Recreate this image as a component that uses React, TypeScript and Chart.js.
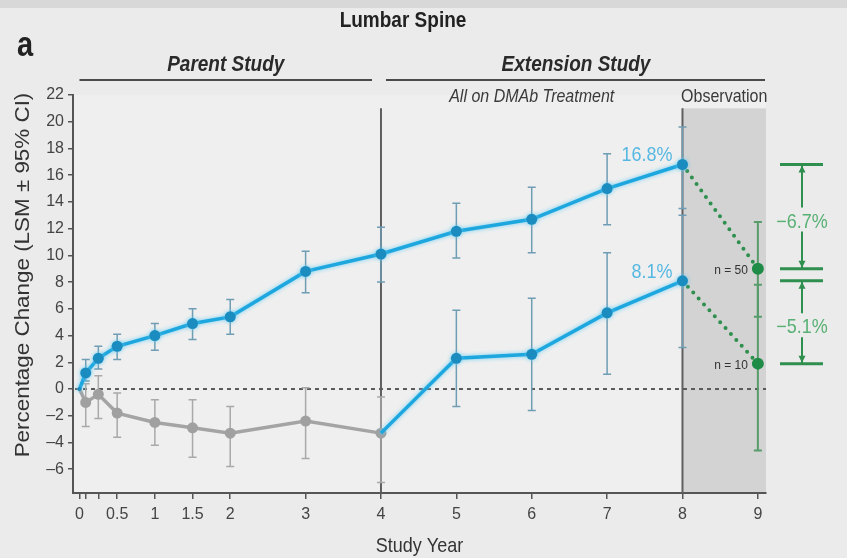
import React, { useEffect, useRef } from 'react';
import { Chart, registerables } from 'chart.js';

Chart.register(...registerables);

// ---------- data ----------
const xTickValues = [0, 0.083, 0.25, 0.5, 1, 1.5, 2, 3, 4, 5, 6, 7, 8, 9];
const xTickLabels = ['0', '', '', '0.5', '1', '1.5', '2', '3', '4', '5', '6', '7', '8', '9'];
const yTickValues = [-6, -4, -2, 0, 2, 4, 6, 8, 10, 12, 14, 16, 18, 20, 22];

const dmabYears = [0, 0.083, 0.25, 0.5, 1, 1.5, 2, 3, 4, 5, 6, 7, 8];
const dmabMean = [0, 1.2, 2.3, 3.2, 4.0, 4.9, 5.4, 8.8, 10.1, 11.8, 12.7, 15.0, 16.8];
const dmabLow = [null, 0.6, 1.5, 2.2, 2.9, 3.7, 4.1, 7.2, 8.0, 9.8, 10.2, 12.3, 13.5];
const dmabHigh = [null, 2.2, 3.2, 4.1, 4.9, 6.0, 6.7, 10.3, 12.1, 13.9, 15.1, 17.6, 19.6];

const crossYears = [4, 5, 6, 7, 8];
const crossMean = [-3.3, 2.3, 2.6, 5.7, 8.1];
const crossLow = [null, -1.3, -1.6, 1.1, 3.1];
const crossHigh = [null, 5.9, 6.8, 10.2, 13.0];

const placeboYears = [0, 0.083, 0.25, 0.5, 1, 1.5, 2, 3, 4];
const placeboMean = [0, -1.0, -0.4, -1.8, -2.5, -2.9, -3.3, -2.4, -3.3];
const placeboLow = [null, -2.8, -2.2, -3.6, -4.2, -5.1, -5.8, -5.2, -7.0];
const placeboHigh = [null, 0.4, 1.0, -0.3, -0.8, -0.8, -1.3, 0.1, -0.6];

const obsYear = 9;
const obsMean = [9.0, 1.9];
const obsLow = [5.4, -4.6];
const obsHigh = [12.5, 7.8];
const obsLabels = ['n = 50', 'n = 10'];
const endLabels = ['16.8%', '8.1%'];
const changeLabels = ['−6.7%', '−5.1%'];

const titleText = 'Lumbar Spine';
const panelLetter = 'a';
const parentLabel = 'Parent Study';
const extensionLabel = 'Extension Study';
const treatmentLabel = 'All on DMAb Treatment';
const observationLabel = 'Observation';
const yTitle = 'Percentage Change (LSM ± 95% CI)';
const xTitle = 'Study Year';

const crossoverYear = 4;
const observationStart = 8;
const phaseTop = 21;

// ---------- style ----------
const FONT = '"Liberation Sans", Arial, Helvetica, sans-serif';
const BLUE = '#1ea6de';
const BLUE_PT = '#1a8cc0';
const BLUE_ERR = '#6f9db3';
const GRAY = '#a4a4a4';
const GRAY_ERR = '#a9a9a9';
const GREEN = '#2f8f4e';
const GREEN_ERR = '#579c6b';
const AXIS = '#555555';

function sText(ctx: CanvasRenderingContext2D, text: string, x: number, y: number, font: string, color: string, align: CanvasTextAlign, sy = 1.2, baseline: CanvasTextBaseline = 'alphabetic') {
  ctx.save();
  ctx.translate(x, y);
  ctx.scale(1, sy);
  ctx.font = font;
  ctx.fillStyle = color;
  ctx.textAlign = align;
  ctx.textBaseline = baseline;
  ctx.fillText(text, 0, 0);
  ctx.restore();
}

function drawErr(ctx: CanvasRenderingContext2D, xs: any, ys: any, years: number[], lo: (number | null)[], hi: (number | null)[], color: string, lw: number, cap: number) {
  ctx.save();
  ctx.strokeStyle = color;
  ctx.lineWidth = lw;
  for (let i = 0; i < years.length; i++) {
    const l = lo[i];
    const h = hi[i];
    if (l == null || h == null) continue;
    const px = xs.getPixelForValue(years[i]);
    const pl = ys.getPixelForValue(l);
    const ph = ys.getPixelForValue(h);
    ctx.beginPath();
    ctx.moveTo(px, pl);
    ctx.lineTo(px, ph);
    ctx.moveTo(px - cap, pl);
    ctx.lineTo(px + cap, pl);
    ctx.moveTo(px - cap, ph);
    ctx.lineTo(px + cap, ph);
    ctx.stroke();
  }
  ctx.restore();
}

const decorPlugin = {
  id: 'decor',
  beforeDraw(chart: any) {
    const { ctx, width, height, chartArea, scales } = chart;
    const xs = scales.x;
    const ys = scales.y;
    ctx.save();
    ctx.fillStyle = '#ebebeb';
    ctx.fillRect(0, 0, width, height);
    ctx.fillStyle = '#d8d8d8';
    ctx.fillRect(0, 0, width, 8);
    ctx.fillStyle = '#efefef';
    ctx.fillRect(chartArea.left, chartArea.top, chartArea.right - chartArea.left, chartArea.bottom - chartArea.top);
    const ox = xs.getPixelForValue(observationStart);
    const oy = ys.getPixelForValue(phaseTop);
    ctx.fillStyle = '#d3d3d3';
    ctx.fillRect(ox, oy, chartArea.right - ox, chartArea.bottom - oy);
    ctx.restore();
  },
  beforeDatasetsDraw(chart: any) {
    const { ctx, chartArea, scales } = chart;
    const xs = scales.x;
    const ys = scales.y;
    ctx.save();
    const y0 = ys.getPixelForValue(0);
    ctx.strokeStyle = '#5a5a5a';
    ctx.lineWidth = 2;
    ctx.setLineDash([4, 4]);
    ctx.beginPath();
    ctx.moveTo(chartArea.left + 2, y0);
    ctx.lineTo(chartArea.right, y0);
    ctx.stroke();
    ctx.setLineDash([]);
    const top = ys.getPixelForValue(phaseTop);
    ctx.strokeStyle = '#5f5f5f';
    ctx.lineWidth = 2;
    [crossoverYear, observationStart].forEach((v) => {
      const px = xs.getPixelForValue(v);
      ctx.beginPath();
      ctx.moveTo(px, top);
      ctx.lineTo(px, chartArea.bottom);
      ctx.stroke();
    });
    ctx.restore();
    drawErr(ctx, xs, ys, placeboYears, placeboLow, placeboHigh, GRAY_ERR, 1.5, 4);
    drawErr(ctx, xs, ys, dmabYears, dmabLow, dmabHigh, BLUE_ERR, 1.5, 4);
    drawErr(ctx, xs, ys, crossYears, crossLow, crossHigh, BLUE_ERR, 1.5, 4);
    drawErr(ctx, xs, ys, [obsYear, obsYear], obsLow, obsHigh, GREEN_ERR, 2, 4);
  },
  beforeDatasetDraw(chart: any, args: any) {
    if (args.index === 0 || args.index === 1) {
      chart.ctx.save();
      chart.ctx.shadowColor = 'rgba(95, 205, 245, 0.9)';
      chart.ctx.shadowBlur = 4;
    }
  },
  afterDatasetDraw(chart: any, args: any) {
    if (args.index === 0 || args.index === 1) {
      chart.ctx.restore();
    }
  },
  afterDraw(chart: any) {
    const { ctx, chartArea, scales } = chart;
    const xs = scales.x;
    const ys = scales.y;
    const x4 = xs.getPixelForValue(crossoverYear);
    const x8 = xs.getPixelForValue(observationStart);
    const x0 = xs.getPixelForValue(0);
    const x9 = xs.getPixelForValue(obsYear);

    sText(ctx, titleText, 403, 27, `bold 19px ${FONT}`, '#222', 'center');
    sText(ctx, panelLetter, 17, 56, `bold 29px ${FONT}`, '#222', 'left');
    sText(ctx, parentLabel, (x0 + x4 - 9) / 2, 71, `italic bold 19px ${FONT}`, '#2a2a2a', 'center');
    sText(ctx, extensionLabel, (x4 + 5 + chartArea.right) / 2, 71, `italic bold 19px ${FONT}`, '#2a2a2a', 'center');
    sText(ctx, treatmentLabel, (x4 + x8) / 2, 102, `italic 16px ${FONT}`, '#3a3a3a', 'center');
    sText(ctx, observationLabel, (x8 + chartArea.right) / 2, 102, `16px ${FONT}`, '#3a3a3a', 'center');

    ctx.save();
    ctx.strokeStyle = '#4a4a4a';
    ctx.lineWidth = 2;
    ctx.beginPath();
    ctx.moveTo(x0, 80);
    ctx.lineTo(x4 - 9, 80);
    ctx.moveTo(x4 + 5, 80);
    ctx.lineTo(chartArea.right - 1, 80);
    ctx.stroke();
    ctx.restore();

    ctx.save();
    ctx.translate(29, 275);
    ctx.rotate(-Math.PI / 2);
    ctx.scale(1.12, 1);
    ctx.font = `20px ${FONT}`;
    ctx.fillStyle = '#333';
    ctx.textAlign = 'center';
    ctx.textBaseline = 'alphabetic';
    ctx.fillText(yTitle, 0, 0);
    ctx.restore();
    sText(ctx, xTitle, (chartArea.left + chartArea.right) / 2, 552, `18px ${FONT}`, '#333', 'center', 1.1);

    const endVals = [dmabMean[dmabMean.length - 1], crossMean[crossMean.length - 1]];
    endVals.forEach((v, i) => {
      sText(ctx, endLabels[i], x8 - 10, ys.getPixelForValue(v) - 3, `18px ${FONT}`, '#56b8e2', 'right', 1.1);
    });
    obsMean.forEach((v, i) => {
      sText(ctx, obsLabels[i], x9 - 10, ys.getPixelForValue(v) + 2, `12px ${FONT}`, '#333', 'right', 1.1, 'middle');
    });

    const cx = chartArea.right + 36;
    const bx0 = chartArea.right + 14;
    const bx1 = chartArea.right + 57;
    const pairs = [
      [endVals[0], obsMean[0]],
      [endVals[1], obsMean[1]],
    ];
    pairs.forEach((p, i) => {
      const yt = ys.getPixelForValue(p[0]);
      const yb = ys.getPixelForValue(p[1]);
      const mid = (yt + yb) / 2 + 5;
      ctx.save();
      ctx.strokeStyle = GREEN;
      ctx.fillStyle = GREEN;
      ctx.lineWidth = 3;
      ctx.beginPath();
      ctx.moveTo(bx0, yt);
      ctx.lineTo(bx1, yt);
      ctx.moveTo(bx0, yb);
      ctx.lineTo(bx1, yb);
      ctx.stroke();
      ctx.lineWidth = 2;
      ctx.beginPath();
      ctx.moveTo(cx, yt);
      ctx.lineTo(cx, mid - 14);
      ctx.moveTo(cx, mid + 10);
      ctx.lineTo(cx, yb);
      ctx.stroke();
      ctx.beginPath();
      ctx.moveTo(cx, yt + 1);
      ctx.lineTo(cx - 3.5, yt + 8);
      ctx.lineTo(cx + 3.5, yt + 8);
      ctx.closePath();
      ctx.moveTo(cx, yb - 1);
      ctx.lineTo(cx - 3.5, yb - 8);
      ctx.lineTo(cx + 3.5, yb - 8);
      ctx.closePath();
      ctx.fill();
      ctx.restore();
      sText(ctx, changeLabels[i], cx, mid + 6, `18px ${FONT}`, '#58b074', 'center', 1.1);
    });
  },
};

export default function App() {
  const ref = useRef<HTMLCanvasElement | null>(null);

  useEffect(() => {
    if (!ref.current) return;
    const toXY = (xs: number[], ys: number[]) => xs.map((x, i) => ({ x, y: ys[i] }));
    const chart = new Chart(ref.current, {
      type: 'line',
      data: {
        datasets: [
          {
            label: 'DMAb / DMAb',
            data: toXY(dmabYears, dmabMean),
            borderColor: BLUE,
            backgroundColor: BLUE_PT,
            borderWidth: 3.5,
            pointRadius: dmabYears.map((_, i) => (i === 0 ? 2 : 5.5)),
            pointBorderWidth: 0,
            pointBackgroundColor: BLUE_PT,
            pointBorderColor: BLUE_PT,
            tension: 0,
            order: 1,
          },
          {
            label: 'Placebo / DMAb',
            data: toXY(crossYears, crossMean),
            borderColor: BLUE,
            backgroundColor: BLUE_PT,
            borderWidth: 3.5,
            pointRadius: crossYears.map((_, i) => (i === 0 ? 0 : 5.5)),
            pointBorderWidth: 0,
            pointBackgroundColor: BLUE_PT,
            pointBorderColor: BLUE_PT,
            tension: 0,
            order: 2,
          },
          {
            label: 'Placebo',
            data: toXY(placeboYears, placeboMean),
            borderColor: GRAY,
            backgroundColor: GRAY,
            borderWidth: 3.5,
            pointRadius: placeboYears.map((_, i) => (i === 0 ? 2 : 5.5)),
            pointBorderWidth: 0,
            pointBackgroundColor: '#a0a0a0',
            pointBorderColor: '#a0a0a0',
            tension: 0,
            order: 3,
          },
          {
            label: 'Observation A',
            data: [
              { x: observationStart, y: dmabMean[dmabMean.length - 1] },
              { x: obsYear, y: obsMean[0] },
            ],
            borderColor: GREEN,
            borderWidth: 4,
            borderDash: [0, 8],
            borderCapStyle: 'round',
            pointRadius: 0,
            order: 4,
          },
          {
            label: 'Observation B',
            data: [
              { x: observationStart, y: crossMean[crossMean.length - 1] },
              { x: obsYear, y: obsMean[1] },
            ],
            borderColor: GREEN,
            borderWidth: 4,
            borderDash: [0, 8],
            borderCapStyle: 'round',
            pointRadius: 0,
            order: 4,
          },
          {
            label: 'Observation points',
            data: obsMean.map((v) => ({ x: obsYear, y: v })),
            showLine: false,
            pointRadius: 6,
            pointBorderWidth: 0,
            pointBackgroundColor: '#1e8c47',
            pointBorderColor: '#1e8c47',
            order: 0,
          },
        ],
      },
      options: {
        animation: false,
        responsive: false,
        layout: { padding: { left: 0, right: 81, top: 95, bottom: 0 } },
        plugins: {
          legend: { display: false },
          tooltip: { enabled: false },
          title: { display: false },
        },
        scales: {
          x: {
            type: 'linear',
            min: -0.086,
            max: 9.108,
            afterBuildTicks: (s: any) => {
              s.ticks = xTickValues.map((v) => ({ value: v }));
            },
            afterFit: (s: any) => {
              s.height = 65;
            },
            ticks: {
              autoSkip: false,
              maxRotation: 0,
              padding: 6,
              color: '#444',
              font: { family: FONT, size: 16 },
              callback: (_v: any, i: number) => xTickLabels[i],
            },
            grid: { drawOnChartArea: false, drawTicks: true, tickLength: 6, color: AXIS, lineWidth: 1.5 },
            border: { display: true, color: AXIS, width: 2 },
          },
          y: {
            type: 'linear',
            min: -7.78,
            max: 22,
            afterBuildTicks: (s: any) => {
              s.ticks = yTickValues.map((v) => ({ value: v }));
            },
            afterFit: (s: any) => {
              s.width = 73;
            },
            ticks: {
              padding: 4,
              color: '#444',
              font: { family: FONT, size: 16 },
              callback: (v: any) => (v < 0 ? '–' + Math.abs(v) : String(v)),
            },
            grid: { drawOnChartArea: false, drawTicks: true, tickLength: 5, color: AXIS, lineWidth: 1.5 },
            border: { display: true, color: AXIS, width: 2 },
          },
        },
      },
      plugins: [decorPlugin],
    } as any);
    return () => chart.destroy();
  }, []);

  return (
    <div style={{ position: 'fixed', left: 0, top: 0, width: 847, height: 558 }}>
      <canvas ref={ref} width={847} height={558} style={{ display: 'block' }} />
    </div>
  );
}
